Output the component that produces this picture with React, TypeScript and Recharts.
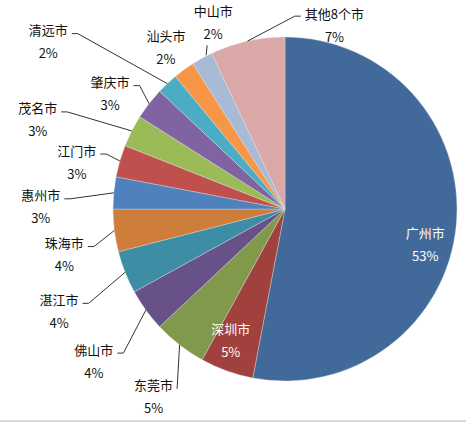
import React from "react";
import { PieChart, Pie, Cell } from "recharts";

// Share of each city, clockwise from 12 o'clock
const cities = [
  "广州市", "深圳市", "东莞市", "佛山市", "湛江市", "珠海市", "惠州市",
  "江门市", "茂名市", "肇庆市", "清远市", "汕头市", "中山市", "其他8个市"
];
const shares = [53, 5, 5, 4, 4, 4, 3, 3, 3, 3, 2, 2, 2, 7];

const colors = [
  "#416A9B", "#A0413E", "#80994A", "#685089", "#3D8DA4", "#CF7D3A", "#4F81BD",
  "#C0504D", "#9BBB59", "#8064A2", "#4BACC6", "#F79646", "#A9BAD6", "#D9A8A7"
];

// label placement: name-centre offset from the slice's outer edge point, and leader style
type Mode = "inside" | "left" | "right" | "up" | "none";
const labelOffsets: [number, number][] = [
  [-31, 8], [4, -41], [-26, 41], [-52, 40], [-66, 28], [-50, 13], [-73, 3],
  [-43, -10], [-94, -22], [-39, -21], [-119, -53], [-18, -33], [11, -47], [87, -27]
];
const labelModes: Mode[] = [
  "inside", "inside", "left", "left", "left", "left", "left",
  "left", "left", "left", "left", "none", "up", "right"
];

const data = cities.map((name, i) => ({ name, value: shares[i] }));

const FONT = "'Noto Sans CJK SC', 'Microsoft YaHei', sans-serif";
const FS = 13;
const RAD = Math.PI / 180;

function textWidth(s: string) {
  let w = 0;
  for (const ch of s) w += ch.charCodeAt(0) > 255 ? FS : FS * 0.57;
  return w;
}

const renderLabel = (props: any) => {
  const { cx, cy, midAngle, outerRadius, index } = props;
  const ex = cx + outerRadius * Math.cos(-midAngle * RAD);
  const ey = cy + outerRadius * Math.sin(-midAngle * RAD);
  const [ox, oy] = labelOffsets[index];
  const lx = ex + ox;
  const ly = ey + oy;
  const mode = labelModes[index];
  const name = cities[index];
  const pct = `${shares[index]}%`;
  const w = textWidth(name);
  const fill = mode === "inside" ? "#ffffff" : "#111111";

  let leader: string | null = null;
  if (mode === "left") {
    const endX = lx + w / 2 + 4;
    const endY = ly + 3;
    leader = ex > endX + 8
      ? `M${ex},${ey}L${endX + 6},${endY}L${endX},${endY}`
      : `M${ex},${ey}L${endX},${endY}`;
  } else if (mode === "right") {
    const startX = lx - w / 2 - 4;
    const endY = ly + 2;
    leader = `M${ex},${ey}L${startX - 6},${endY}L${startX},${endY}`;
  } else if (mode === "up") {
    leader = `M${ex + 4},${ey - 3}L${lx - 6},${ly + 34}`;
  }

  return (
    <g key={`lbl-${index}`}>
      {leader && <path d={leader} stroke="#333" strokeWidth={1} fill="none" />}
      <text x={lx} y={ly} dy="0.35em" textAnchor="middle" fill={fill}
        fontSize={FS} fontFamily={FONT}>
        {name}
      </text>
      <text x={lx} y={ly + 23} dy="0.35em" textAnchor="middle" fill={fill}
        fontSize={FS} fontFamily={FONT}>
        {pct}
      </text>
    </g>
  );
};

export default function App() {
  return (
    <div style={{ position: "absolute", left: 0, top: 0, width: 466, height: 422, background: "#fff" }}>
      <PieChart width={466} height={422} margin={{ top: 0, right: 0, bottom: 0, left: 0 }}>
        <Pie
          data={data}
          dataKey="value"
          nameKey="name"
          cx={285}
          cy={209}
          outerRadius={172}
          startAngle={90}
          endAngle={-270}
          stroke="#e6e6e6"
          strokeWidth={0.35}
          label={renderLabel}
          labelLine={false}
          isAnimationActive={false}
        >
          {data.map((d, i) => (
            <Cell key={d.name} fill={colors[i]} />
          ))}
        </Pie>
      </PieChart>
      <div style={{ position: "absolute", left: 0, top: 420, width: 466, height: 2, background: "#d9d9d9" }} />
    </div>
  );
}
